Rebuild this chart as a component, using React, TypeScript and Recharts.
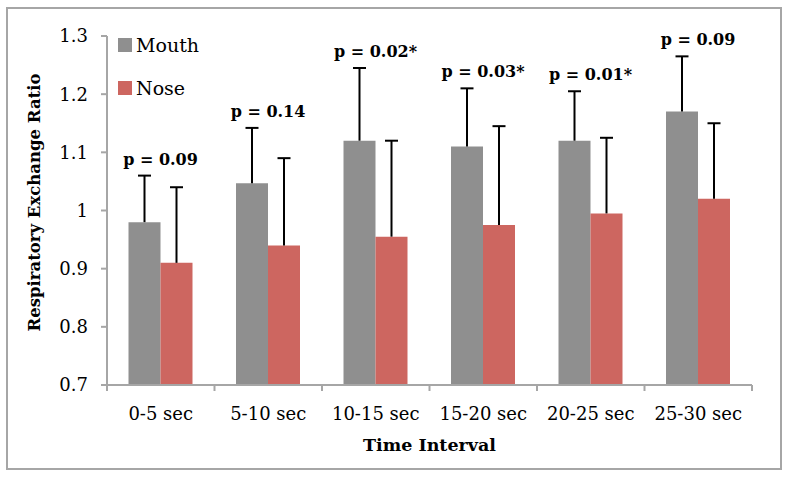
import React from 'react';
import { BarChart, Bar, XAxis, YAxis, Legend, LabelList } from 'recharts';

const categories = ['0-5 sec', '5-10 sec', '10-15 sec', '15-20 sec', '20-25 sec', '25-30 sec'];
const mouth = [0.98, 1.047, 1.12, 1.11, 1.12, 1.17];
const mouthErr = [0.08, 0.095, 0.125, 0.1, 0.085, 0.095];
const nose = [0.91, 0.94, 0.955, 0.975, 0.995, 1.02];
const noseErr = [0.13, 0.15, 0.165, 0.17, 0.13, 0.13];
const pValues = ['p = 0.09', 'p = 0.14', 'p = 0.02*', 'p = 0.03*', 'p = 0.01*', 'p = 0.09'];
const yTicks = [0.7, 0.8, 0.9, 1.0, 1.1, 1.2, 1.3];

const data = categories.map((name, i) => ({
  name,
  mouth: mouth[i],
  mouthErr: mouthErr[i],
  nose: nose[i],
  noseErr: noseErr[i],
  p: pValues[i],
}));

const FONT = 'DejaVu Serif';
const AXIS = '#a6a6a6';
const GRAY = '#8f8f8f';
const RED = '#cd6660';

// whisker drawn over the stacked error segment (upper side only)
const Whisker = (props: any) => {
  const { x, y, width, height } = props;
  const cx = x + width / 2;
  return (
    <g>
      <line x1={cx} y1={y} x2={cx} y2={y + height} stroke="#000" strokeWidth={2} />
      <line x1={cx - 6.5} y1={y} x2={cx + 6.5} y2={y} stroke="#000" strokeWidth={2} />
    </g>
  );
};

const XTick = (props: any) => {
  const { x, y, payload, index } = props;
  const half = payload && payload.offset ? payload.offset : 53.7;
  return (
    <g>
      <line x1={x - half} y1={y} x2={x - half} y2={y + 6} stroke={AXIS} strokeWidth={2} />
      {index === categories.length - 1 && (
        <line x1={x + half} y1={y} x2={x + half} y2={y + 6} stroke={AXIS} strokeWidth={2} />
      )}
      <text x={x} y={y + 35} textAnchor="middle" fontFamily={FONT} fontSize={18} fill="#000">
        {payload.value}
      </text>
    </g>
  );
};

const PLabel = (props: any) => {
  const { x, y, width, value } = props;
  return (
    <text
      x={Number(x) + Number(width)}
      y={Number(y) - 11}
      textAnchor="middle"
      fontFamily={FONT}
      fontWeight="bold"
      fontSize={16}
      fill="#000"
    >
      {value}
    </text>
  );
};

const LegendBox = () => (
  <div style={{ fontFamily: FONT, fontSize: 19, color: '#000' }}>
    {[
      { label: 'Mouth', color: GRAY },
      { label: 'Nose', color: RED },
    ].map((item) => (
      <div key={item.label} style={{ display: 'flex', alignItems: 'center', height: 43 }}>
        <div style={{ width: 14, height: 14, background: item.color, marginRight: 4 }} />
        <span>{item.label}</span>
      </div>
    ))}
  </div>
);

const App = () => {
  return (
    <div style={{ position: 'absolute', left: 0, top: 0, width: 789, height: 479, background: '#fff' }}>
      <div
        style={{
          position: 'absolute',
          left: 6,
          top: 7,
          width: 776,
          height: 463,
          border: `2px solid ${AXIS}`,
          boxSizing: 'border-box',
        }}
      />
      <BarChart
        width={789}
        height={479}
        data={data}
        margin={{ top: 36, right: 37, left: 0, bottom: 34 }}
        barCategoryGap="20%"
        barGap={0}
      >
        <XAxis
          dataKey="name"
          height={60}
          interval={0}
          tickLine={false}
          tickSize={0}
          tickMargin={0}
          tick={<XTick />}
          stroke={AXIS}
          strokeWidth={2}
          label={(p: any) => {
            const vb = p.viewBox;
            return (
              <text
                x={vb.x + vb.width / 2}
                y={vb.y + 66}
                textAnchor="middle"
                fontFamily={FONT}
                fontWeight="bold"
                fontSize={17.5}
                fill="#000"
              >
                Time Interval
              </text>
            );
          }}
        />
        <YAxis
          width={107}
          domain={[0.7, 1.3]}
          ticks={yTicks}
          allowDataOverflow
          interval={0}
          tickSize={6}
          tickMargin={13}
          stroke={AXIS}
          strokeWidth={2}
          tick={{ fill: '#000', fontFamily: FONT, fontSize: 18 }}
          tickFormatter={(v: number) => (v === 1 ? '1' : v.toFixed(1))}
          label={(p: any) => {
            const vb = p.viewBox;
            const cx = vb.x + 40;
            const cy = vb.y + vb.height / 2 - 8;
            return (
              <text
                x={cx}
                y={cy}
                transform={`rotate(-90 ${cx} ${cy})`}
                textAnchor="middle"
                fontFamily={FONT}
                fontWeight="bold"
                fontSize={16.5}
                fill="#000"
              >
                Respiratory Exchange Ratio
              </text>
            );
          }}
        />
        <Legend
          layout="horizontal"
          verticalAlign="middle"
          align="center"
          content={<LegendBox />}
          wrapperStyle={{ position: 'absolute', left: 118, top: 23, width: 120 }}
        />
        <Bar dataKey="mouth" stackId="m" fill={GRAY} isAnimationActive={false} />
        <Bar dataKey="mouthErr" stackId="m" fill="none" shape={<Whisker />} isAnimationActive={false}>
          <LabelList dataKey="p" content={<PLabel />} />
        </Bar>
        <Bar dataKey="nose" stackId="n" fill={RED} isAnimationActive={false} />
        <Bar dataKey="noseErr" stackId="n" fill="none" shape={<Whisker />} isAnimationActive={false} />
      </BarChart>
    </div>
  );
};

export default App;
